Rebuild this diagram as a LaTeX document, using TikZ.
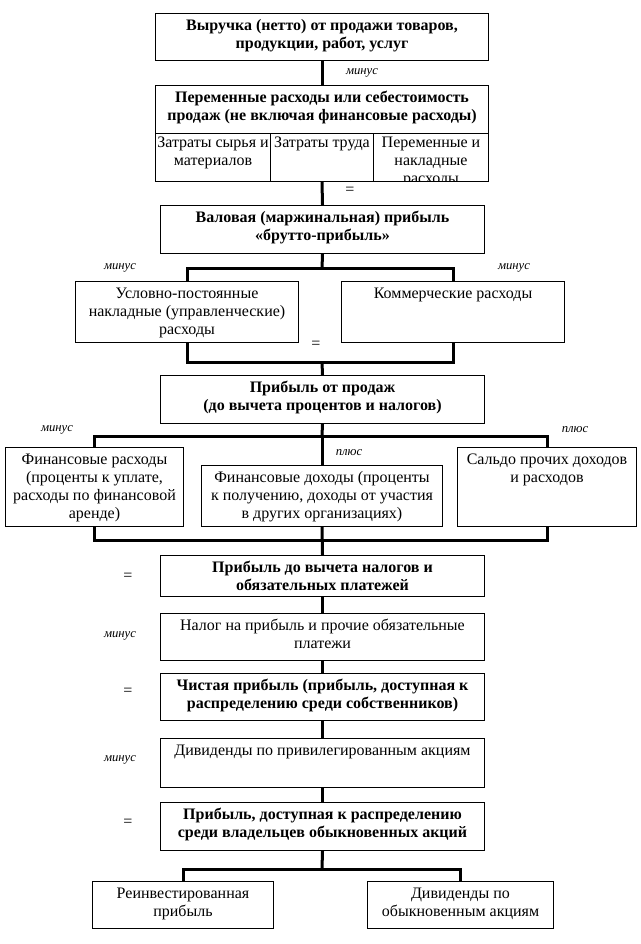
\documentclass[tikz,border=0pt]{standalone}
\usepackage{fontspec}
\setmainfont{Liberation Serif}
\hyphenpenalty=10000 \exhyphenpenalty=10000
\tikzset{
 px/.style={x=0.75pt,y=-0.75pt},
 boxst/.style={draw, line width=0.75pt, inner sep=0pt, anchor=north west},
 conn/.style={line width=2.25pt},
 lbl/.style={font=\fontsize{9.5pt}{11pt}\selectfont\itshape, inner sep=0pt},
 eq/.style={font=\fontsize{12pt}{13.5pt}\selectfont, inner sep=0pt},
}
\def\tg{3pt}
\newcommand\bx[7][]{\node[boxst,#1] (#2) at (#3,#4) {\parbox[c][\dimexpr(#6pt-#4pt)*3/4\relax][t]{\dimexpr(#5pt-#3pt)*3/4\relax}{\fontsize{12pt}{13.5pt}\selectfont\vskip\tg\centering\strut #7\par}};}
\begin{document}
\begin{tikzpicture}[px]
\useasboundingbox (0,0) rectangle (641,944);
% boxes
\bx{b1}{155}{13}{488}{60}{\bfseries Выручка (нетто) от продажи товаров,\\ продукции, работ, услуг}
\bx{b2}{155}{85}{488}{133}{\bfseries Переменные расходы или себестоимость\\ продаж (не включая финансовые расходы)}
{\def\tg{0.8pt}
\bx{c1}{155}{133}{270}{181}{Затраты сырья и\\ материалов}
\bx{c2}{270}{133}{373}{181}{Затраты труда}
\begin{scope}
\clip (368,128) rectangle (493,181.6);
\bx{c3}{373}{133}{488}{181}{Переменные и\\ накладные\\ расходы}
\end{scope}
}
\bx{b3}{160}{205}{484}{253}{\bfseries Валовая (маржинальная) прибыль\\ «брутто-прибыль»}
\bx{b4a}{75}{281}{298}{342}{Условно-постоянные\\ накладные (управленческие)\\ расходы}
\bx{b4b}{341}{281}{564}{342}{Коммерческие расходы}
\bx{b5}{160}{375}{484}{423}{\bfseries Прибыль от продаж\\ (до вычета процентов и налогов)}
\bx{b6a}{5}{447}{183}{526}{Финансовые расходы\\ (проценты к уплате,\\ расходы по финансовой\\ аренде)}
\bx{b6b}{201}{465}{442}{526}{Финансовые доходы (проценты\\ к получению, доходы от участия\\ в других организациях)}
\bx{b6c}{457}{447}{636}{526}{Сальдо прочих доходов\\ и расходов}
\bx{b7}{160}{555}{484}{596}{\bfseries Прибыль до вычета налогов и\\ обязательных платежей}
\bx{b8}{160}{613}{484}{660}{Налог на прибыль и прочие обязательные\\ платежи}
\bx{b9}{160}{673}{484}{720}{\bfseries Чистая прибыль (прибыль, доступная к\\ распределению среди собственников)}
\bx{b10}{160}{738}{484}{787}{Дивиденды по привилегированным акциям}
\bx{b11}{160}{802}{484}{850}{\bfseries Прибыль, доступная к распределению\\ среди владельцев обыкновенных акций}
\bx{b12a}{92}{881}{273}{928}{Реинвестированная\\ прибыль}
\bx{b12b}{367}{881}{553}{928}{Дивиденды по\\ обыкновенным акциям}
% connectors
\draw[conn] (b1.south) -- (b2.north);
\draw[conn] (c2.south) -- (b3.north);
\coordinate (j1) at (322,269);
\draw[conn] (b3.south) -- (j1);
\draw[conn] (b4a.north) |- (j1) -| (b4b.north);
\coordinate (j2) at (322,362);
\draw[conn] (b4a.south) |- (j2) -| (b4b.south);
\draw[conn] (j2) -- (b5.north);
\coordinate (j3) at (322,436);
\draw[conn] (b5.south) -- (j3);
\draw[conn] (b6a.north) |- (j3) -| (b6c.north);
\draw[conn] (j3) -- (b6b.north);
\coordinate (j4) at (322,540);
\draw[conn] (b6a.south) |- (j4) -| (b6c.south);
\draw[conn] (b6b.south) -- (b7.north);
\draw[conn] (b7.south) -- (b8.north);
\draw[conn] (b8.south) -- (b9.north);
\draw[conn] (b9.south) -- (b10.north);
\draw[conn] (b10.south) -- (b11.north);
\coordinate (j5) at (322,869);
\draw[conn] (b11.south) -- (j5);
\draw[conn] (b12a.north) |- (j5) -| (b12b.north);
% labels
\node[lbl] (l1) at (362,73) {минус};
\node[eq] (e1) at (350,191) {=};
\node[lbl] (l2) at (120,268) {минус};
\node[lbl] (l3) at (514,268) {минус};
\node[eq] (e2) at (316,345) {=};
\node[lbl] (l4) at (57,430) {минус};
\node[lbl] (l5) at (575,430) {плюс};
\node[lbl] (l6) at (349,453) {плюс};
\node[eq] (e3) at (128,577) {=};
\node[lbl] (l7) at (120,636) {минус};
\node[eq] (e4) at (128,692) {=};
\node[lbl] (l8) at (120,760) {минус};
\node[eq] (e5) at (128,823) {=};
\end{tikzpicture}
\end{document}
